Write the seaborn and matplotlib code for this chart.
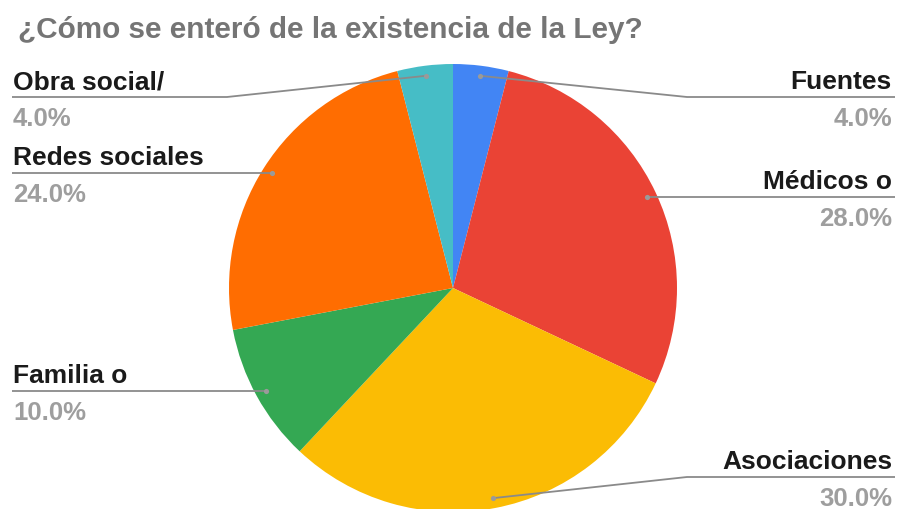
import numpy as np
import matplotlib
matplotlib.use("Agg")
import matplotlib.pyplot as plt
import seaborn as sns

# Survey answers, clockwise from 12 o'clock
labels = ["Fuentes", "Médicos o", "Asociaciones", "Familia o", "Redes sociales", "Obra social/"]
shares = [4.0, 28.0, 30.0, 10.0, 24.0, 4.0]
colors = ["#4285F4", "#EA4335", "#FBBC04", "#34A853", "#FF6D01", "#46BDC6"]
title = "¿Cómo se enteró de la existencia de la Ley?"

sns.set_theme(style="white")
plt.rcParams["font.family"] = ["Liberation Sans", "DejaVu Sans"]

W, H = 900, 510
fig = plt.figure(figsize=(W / 100, H / 100), dpi=100)
ax = fig.add_axes([0, 0, 1, 1])
ax.set_xlim(0, W)
ax.set_ylim(0, H)
ax.set_aspect("equal")
ax.axis("off")

cx, cy, r = 453, H - 289, 224
ax.pie(shares, colors=colors, startangle=90, counterclock=False,
       center=(cx, cy), radius=r, frame=True,
       wedgeprops=dict(linewidth=0))
ax.set_xlim(0, W)
ax.set_ylim(0, H)
ax.axis("off")

# label placement: side and the height of the horizontal leader
side = ["right", "right", "right", "left", "left", "left"]
line_y = [98, None, 478, None, None, 98]
elbow_x = [687, None, 687, None, None, 227]

line_col = "#8a8a8a"
cum = np.cumsum([0] + shares[:-1])
for i, (lab, v) in enumerate(zip(labels, shares)):
    mid = np.deg2rad((cum[i] + v / 2) / 100 * 360)
    dx = cx + 0.955 * r * np.sin(mid)
    dy = cy + 0.955 * r * np.cos(mid)
    ly = H - line_y[i] if line_y[i] is not None else dy
    if side[i] == "right":
        x_end, ha, tx = 895, "right", 892
    else:
        x_end, ha, tx = 12, "left", 13
    if elbow_x[i] is not None:
        xs = [dx, elbow_x[i], x_end]
        ys = [dy, ly, ly]
    else:
        xs = [dx, x_end]
        ys = [dy, ly]
    ax.plot(xs, ys, color=line_col, lw=1.3, solid_capstyle="butt", zorder=3)
    ax.scatter([dx], [dy], s=14, color="#9a9a9a", zorder=4, linewidths=0)
    ax.text(tx, ly + 9, lab, ha=ha, va="baseline", fontsize=19,
            fontweight="bold", color="#1a1a1a")
    ax.text(tx, ly - 28, f"{v:.1f}%", ha=ha, va="baseline", fontsize=18.5,
            fontweight="bold", color="#9e9e9e")

ax.text(18, H - 38, title, ha="left", va="baseline", fontsize=21.4,
        fontweight="bold", color="#757575")

fig.savefig("out.png", dpi=100)
